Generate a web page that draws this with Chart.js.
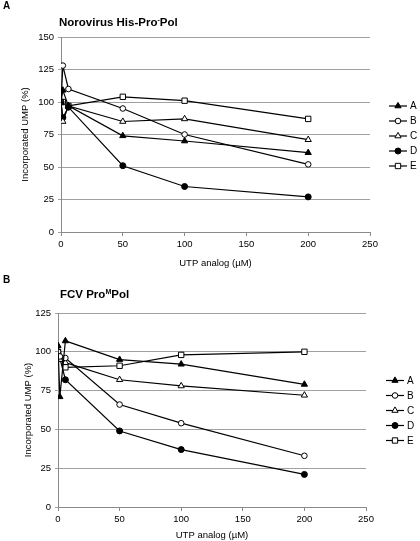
<!DOCTYPE html>
<html><head><meta charset="utf-8">
<script src="https://cdn.jsdelivr.net/npm/chart.js@4.4.1/dist/chart.umd.min.js"></script>
<style>
html,body{margin:0;padding:0;background:#fff;}
#wrap{position:relative;width:420px;height:541px;overflow:hidden;font-family:"Liberation Sans",Arial,sans-serif;}
canvas{position:absolute;left:0;}
.lbl{position:absolute;font-weight:bold;color:#000;white-space:nowrap;}
.sup{position:relative;top:-4px;font-size:7px;}
</style></head><body>
<div id="wrap">
<canvas id="cA" width="420" height="270" style="top:0px"></canvas>
<canvas id="cB" width="420" height="271" style="top:270px"></canvas>
<div class="lbl" style="left:3px;top:0px;font-size:10px;line-height:12px;">A</div>
<div class="lbl" style="left:59px;top:15px;font-size:11.5px;line-height:15px;">Norovirus His-Pro<span class="sup">-</span>Pol</div>
<div class="lbl" style="left:3px;top:274px;font-size:10px;line-height:12px;">B</div>
<div class="lbl" style="left:60px;top:287px;font-size:11.5px;line-height:15px;">FCV Pro<span class="sup">M</span>Pol</div>
</div>
<script>
// ---- data ----
const doses = [0, 1.5, 6, 50, 100, 200];
const seriesNames = ['A', 'B', 'C', 'D', 'E'];
const xTickValues = [0, 50, 100, 150, 200, 250];
const yTicksNoro = [0, 25, 50, 75, 100, 125, 150];
const yTicksFcv = [0, 25, 50, 75, 100, 125];

const noroA = [100, 109, 97, 74, 70, 61];
const noroB = [100, 128, 110, 95, 75, 52];
const noroC = [100, 85, 97, 85, 87, 71];
const noroD = [100, 88, 96, 51, 35, 27];
const noroE = [100, 100, 97, 104, 101, 87];

const fcvA = [104, 71, 107, 95, 92, 79];
const fcvB = [100, 97, 96, 66, 54, 33];
const fcvC = [100, 95, 93, 82, 78, 72];
const fcvD = [100, 96, 82, 49, 37, 21];
const fcvE = [100, 96, 90, 91, 98, 100];

// ---- styles ----
const markerStyles = [
  {pointStyle: 'triangle', fill: '#000', r: 3.6},
  {pointStyle: 'circle', fill: '#fff', r: 2.8},
  {pointStyle: 'triangle', fill: '#fff', r: 3.6},
  {pointStyle: 'circle', fill: '#000', r: 3},
  {pointStyle: 'rect', fill: '#fff', r: 3.8}
];

function drawMarker(ctx, style, fill, r, x, y) {
  ctx.beginPath();
  if (style === 'circle') {
    ctx.arc(x, y, r, 0, Math.PI * 2);
  } else if (style === 'triangle') {
    let rad = 0;
    ctx.moveTo(x + Math.sin(rad) * r, y - Math.cos(rad) * r);
    rad += 2 * Math.PI / 3;
    ctx.lineTo(x + Math.sin(rad) * r, y - Math.cos(rad) * r);
    rad += 2 * Math.PI / 3;
    ctx.lineTo(x + Math.sin(rad) * r, y - Math.cos(rad) * r);
    ctx.closePath();
  } else {
    const s = r * Math.SQRT1_2;
    ctx.rect(x - s, y - s, 2 * s, 2 * s);
  }
  ctx.fillStyle = fill; ctx.fill();
  ctx.strokeStyle = '#000'; ctx.lineWidth = 1; ctx.stroke();
}

const lineLegend = {
  id: 'lineLegend',
  afterDraw(chart, args, opts) {
    const ctx = chart.ctx, ca = chart.chartArea;
    const x0 = ca.right + opts.dx;
    const cy = (ca.top + ca.bottom) / 2 + opts.dy;
    const n = chart.data.datasets.length, gap = 15;
    ctx.save();
    chart.data.datasets.forEach((ds, i) => {
      const y = cy + (i - (n - 1) / 2) * gap;
      ctx.strokeStyle = '#000'; ctx.lineWidth = 1.2;
      ctx.beginPath(); ctx.moveTo(x0, y); ctx.lineTo(x0 + 18, y); ctx.stroke();
      drawMarker(ctx, ds.pointStyle, ds.pointBackgroundColor, ds.pointRadius, x0 + 9, y);
      ctx.fillStyle = '#000';
      ctx.font = '10px "Liberation Sans", Arial, sans-serif';
      ctx.textBaseline = 'middle'; ctx.textAlign = 'left';
      ctx.fillText(ds.label, x0 + 21, y + 0.5);
    });
    ctx.restore();
  }
};

function makeChart(id, seriesList, yTicks, area, legendPos) {
  const canvas = document.getElementById(id);
  const H = canvas.height;
  const datasets = seriesList.map((vals, i) => ({
    label: seriesNames[i],
    data: doses.map((d, k) => ({x: d, y: vals[k]})),
    borderColor: '#000',
    borderWidth: 1.2,
    pointStyle: markerStyles[i].pointStyle,
    pointRadius: markerStyles[i].r,
    pointBackgroundColor: markerStyles[i].fill,
    pointBorderColor: '#000',
    pointBorderWidth: 1,
    fill: false,
    tension: 0
  }));
  const tickFont = {family: '"Liberation Sans", Arial, sans-serif', size: 9.5};
  return new Chart(canvas, {
    type: 'line',
    data: {datasets},
    options: {
      responsive: false,
      devicePixelRatio: 1,
      animation: false,
      layout: {padding: {top: area.top, right: 420 - area.right, left: 0, bottom: 0}},
      scales: {
        x: {
          type: 'linear',
          min: xTickValues[0], max: xTickValues[xTickValues.length - 1],
          afterBuildTicks: s => { s.ticks = xTickValues.map(v => ({value: v})); },
          ticks: {color: '#000', font: tickFont, padding: 3, maxRotation: 0},
          grid: {drawOnChartArea: false, drawTicks: true, tickLength: 4, color: '#8a8a8a'},
          border: {color: '#8a8a8a', width: 1},
          title: {display: true, text: 'UTP analog (µM)', color: '#000', font: tickFont, padding: {top: 0, bottom: area.xtp}},
          afterFit: s => { s.height = H - area.bottom; }
        },
        y: {
          min: yTicks[0], max: yTicks[yTicks.length - 1],
          afterBuildTicks: s => { s.ticks = yTicks.map(v => ({value: v})); },
          ticks: {color: '#000', font: tickFont, padding: 4},
          grid: {color: '#a0a0a0', lineWidth: 1, tickLength: 3},
          border: {color: '#8a8a8a', width: 1},
          title: {display: true, text: 'Incorporated UMP (%)', color: '#000', font: tickFont, padding: {top: area.ytp, bottom: 0}},
          afterFit: s => { s.width = area.left; }
        }
      },
      plugins: {
        legend: {display: false},
        tooltip: {enabled: false},
        lineLegend: legendPos
      }
    },
    plugins: [lineLegend]
  });
}

makeChart('cA', [noroA, noroB, noroC, noroD, noroE], yTicksNoro,
  {left: 61, right: 370, top: 37, bottom: 232, ytp: 20, xtp: 1}, {dx: 19, dy: 1.5});
makeChart('cB', [fcvA, fcvB, fcvC, fcvD, fcvE], yTicksFcv,
  {left: 58, right: 366, top: 43, bottom: 237, ytp: 23, xtp: 0}, {dx: 20, dy: 0.5});
</script>
</body></html>
